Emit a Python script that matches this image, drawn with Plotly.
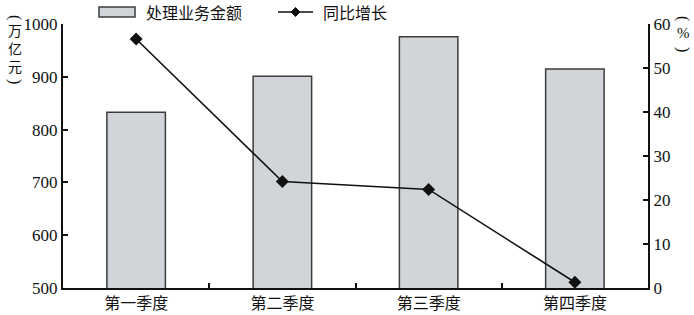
import plotly.graph_objects as go

categories = ["第一季度", "第二季度", "第三季度", "第四季度"]
amount = [833, 901, 976, 915]          # 处理业务金额（万亿元）
growth = [56.6, 24.2, 22.4, 1.3]       # 同比增长（%）
y_ticks = [500, 600, 700, 800, 900, 1000]
y2_ticks = [0, 10, 20, 30, 40, 50, 60]
bar_name = "处理业务金额"
line_name = "同比增长"
left_unit = "万<br>亿<br>元"
right_unit = "%"

SERIF = "Liberation Serif"
CJK = "Noto Sans CJK SC"
W, H = 694, 315
L, R, T, B = 63, 46, 24, 27
PW, PH = W - L - R, H - T - B

def px(x):
    return (x - L) / PW

def py(y):
    return 1 + (T - y) / PH

fig = go.Figure()
fig.add_trace(go.Bar(
    x=categories, y=amount, name=bar_name, width=0.4,
    marker=dict(color="#d1d4d8", line=dict(color="#3c3c3c", width=1.5)),
    showlegend=False,
))
fig.add_trace(go.Scatter(
    x=categories, y=growth, name=line_name, yaxis="y2", mode="lines+markers",
    line=dict(color="#111111", width=1.6),
    marker=dict(symbol="diamond", size=10, color="#111111"),
    showlegend=False,
))

axis_font = dict(family=SERIF, size=17, color="#111111")
fig.update_layout(
    width=W, height=H,
    margin=dict(l=L, r=R, t=T, b=B, autoexpand=False),
    paper_bgcolor="white", plot_bgcolor="white",
    xaxis=dict(
        automargin=False,
        showline=True, linecolor="#111111", linewidth=2,
        ticks="inside", tickson="boundaries", ticklen=5, tickwidth=1.5, tickcolor="#111111",
        tickfont=dict(family=CJK, size=16, color="#111111"),
        showgrid=False, range=[-0.5, 3.5],
    ),
    yaxis=dict(
        automargin=False,
        range=[500, 1000], tickvals=y_ticks, showgrid=False, zeroline=False,
        showline=True, linecolor="#111111", linewidth=2,
        ticks="inside", ticklen=5, tickwidth=1.5, tickcolor="#111111",
        tickfont=axis_font,
    ),
    yaxis2=dict(
        automargin=False,
        range=[0, 60], tickvals=y2_ticks, overlaying="y", side="right",
        showgrid=False, zeroline=False,
        showline=True, linecolor="#111111", linewidth=2,
        ticks="inside", ticklen=5, tickwidth=1.5, tickcolor="#111111",
        tickfont=axis_font,
    ),
)

# Axis unit titles: upright characters stacked vertically, brackets turned sideways
def bracket(ch, xc, yc):
    fig.add_annotation(xref="paper", yref="paper", x=px(xc), y=py(yc),
                       xanchor="center", yanchor="middle", text=ch, showarrow=False,
                       textangle=90, font=dict(family=SERIF, size=16, color="#111111"))

fig.add_annotation(xref="paper", yref="paper", x=px(15), y=py(48.5), xanchor="center", yanchor="middle",
                   text=left_unit, showarrow=False, font=dict(family=CJK, size=14, color="#111111"))
bracket("(", 15, 17)
bracket(")", 15, 81)

fig.add_annotation(xref="paper", yref="paper", x=px(683), y=py(33), xanchor="center", yanchor="middle",
                   text=right_unit, showarrow=False, font=dict(family=SERIF, size=15, color="#111111"))
bracket("(", 683, 18)
bracket(")", 683, 49)

# Custom legend
fig.add_shape(type="rect", xref="paper", yref="paper",
              x0=px(99), x1=px(135), y0=py(17), y1=py(7),
              fillcolor="#d1d4d8", line=dict(color="#3c3c3c", width=1.5))
fig.add_annotation(xref="paper", yref="paper", x=px(144), y=py(12), xanchor="left", yanchor="middle",
                   text=bar_name, showarrow=False, font=dict(family=CJK, size=16, color="#111111"))
fig.add_shape(type="line", xref="paper", yref="paper",
              x0=px(278), x1=px(313), y0=py(12), y1=py(12),
              line=dict(color="#111111", width=1.6))
cx, cy, d = 295.5, 12, 4.5
fig.add_shape(type="path", xref="paper", yref="paper",
              path=f"M {px(cx-d)},{py(cy)} L {px(cx)},{py(cy-d)} L {px(cx+d)},{py(cy)} L {px(cx)},{py(cy+d)} Z",
              fillcolor="#111111", line=dict(color="#111111", width=1))
fig.add_annotation(xref="paper", yref="paper", x=px(321), y=py(12), xanchor="left", yanchor="middle",
                   text=line_name, showarrow=False, font=dict(family=CJK, size=16, color="#111111"))

fig.write_html("out.html")
